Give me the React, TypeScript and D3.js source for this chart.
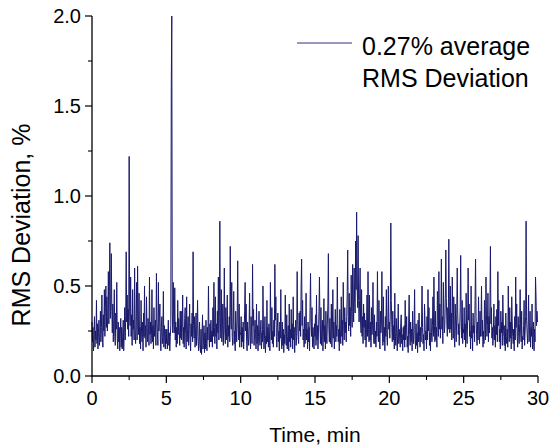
import React from "react";
import * as d3 from "d3";

// RMS deviation (%) sampled every 2 s (1/30 min), one row per minute
const rmsDeviation: number[] = [
  0.30,0.19,0.27,0.14,0.23,0.33,0.16,0.25,0.20,0.42,0.18,0.29,0.15,0.24,0.31,0.17,0.22,0.36,0.19,0.27,0.45,0.21,0.16,0.34,0.25,0.48,0.22,0.38,0.50,0.27,
  0.44,0.25,0.33,0.58,0.29,0.47,0.74,0.32,0.41,0.68,0.36,0.24,0.40,0.19,0.30,0.48,0.22,0.17,0.35,0.26,0.52,0.21,0.15,0.30,0.19,0.27,0.14,0.23,0.32,0.16,
  0.27,0.15,0.22,0.31,0.14,0.24,0.38,0.20,0.33,0.69,0.30,0.45,0.26,0.37,0.22,1.22,0.36,0.28,0.55,0.22,0.34,0.17,0.48,0.26,0.31,0.20,0.60,0.25,0.18,0.29,
  0.52,0.20,0.61,0.33,0.23,0.46,0.18,0.27,0.15,0.42,0.24,0.19,0.30,0.14,0.35,0.22,0.50,0.21,0.28,0.16,0.44,0.25,0.19,0.32,0.28,0.17,0.55,0.23,0.30,0.18,
  0.23,0.48,0.19,0.28,0.15,0.38,0.22,0.26,0.31,0.17,0.57,0.30,0.24,0.17,0.52,0.25,0.33,0.40,0.20,0.14,0.27,0.33,0.18,0.22,0.47,0.16,0.28,0.21,0.15,0.26,
  0.18,0.26,0.15,0.21,0.31,0.17,0.24,0.14,0.22,0.28,1.62,2.00,0.35,0.24,0.52,0.30,0.24,0.49,0.20,0.30,0.16,0.27,0.18,0.42,0.23,0.32,0.25,0.17,0.36,0.21,
  0.36,0.20,0.27,0.45,0.18,0.27,0.16,0.32,0.38,0.23,0.15,0.44,0.19,0.26,0.33,0.17,0.26,0.40,0.21,0.14,0.29,0.22,0.35,0.19,0.69,0.28,0.21,0.33,0.16,0.25,
  0.35,0.17,0.24,0.42,0.22,0.14,0.19,0.30,0.16,0.13,0.26,0.12,0.21,0.34,0.15,0.20,0.28,0.13,0.24,0.15,0.31,0.18,0.14,0.27,0.20,0.50,0.24,0.16,0.29,0.19,
  0.31,0.19,0.25,0.16,0.38,0.22,0.52,0.27,0.18,0.44,0.22,0.29,0.15,0.36,0.24,0.55,0.20,0.33,0.86,0.30,0.21,0.48,0.19,0.26,0.40,0.17,0.28,0.60,0.26,0.18,
  0.38,0.20,0.27,0.45,0.16,0.28,0.22,0.33,0.19,0.72,0.33,0.26,0.52,0.22,0.17,0.30,0.47,0.18,0.25,0.14,0.36,0.26,0.19,0.31,0.64,0.29,0.20,0.40,0.16,0.24,
  0.23,0.33,0.16,0.27,0.19,0.30,0.15,0.24,0.36,0.52,0.25,0.40,0.19,0.14,0.30,0.22,0.17,0.28,0.46,0.21,0.15,0.33,0.26,0.18,0.62,0.28,0.37,0.17,0.23,0.31,
  0.24,0.15,0.40,0.18,0.28,0.14,0.22,0.36,0.21,0.17,0.26,0.31,0.15,0.24,0.19,0.50,0.26,0.15,0.21,0.33,0.13,0.22,0.18,0.42,0.19,0.27,0.16,0.29,0.24,0.14,
  0.52,0.27,0.20,0.38,0.18,0.25,0.16,0.31,0.22,0.62,0.31,0.44,0.22,0.16,0.27,0.35,0.19,0.25,0.14,0.30,0.21,0.48,0.20,0.15,0.30,0.17,0.26,0.13,0.23,0.18,
  0.45,0.23,0.17,0.34,0.15,0.22,0.28,0.14,0.40,0.19,0.26,0.16,0.37,0.21,0.29,0.15,0.44,0.20,0.27,0.13,0.24,0.31,0.17,0.22,0.58,0.31,0.22,0.18,0.35,0.25,
  0.36,0.22,0.50,0.65,0.28,0.42,0.20,0.26,0.16,0.33,0.18,0.24,0.46,0.20,0.26,0.15,0.30,0.19,0.27,0.14,0.38,0.57,0.30,0.22,0.38,0.16,0.27,0.21,0.15,0.29,
  0.22,0.34,0.17,0.45,0.20,0.28,0.15,0.24,0.36,0.55,0.29,0.18,0.38,0.17,0.25,0.31,0.14,0.24,0.43,0.19,0.28,0.15,0.36,0.22,0.18,0.30,0.40,0.68,0.26,0.19,
  0.32,0.18,0.25,0.40,0.16,0.25,0.48,0.21,0.30,0.15,0.24,0.37,0.19,0.28,0.22,0.55,0.30,0.19,0.26,0.14,0.37,0.26,0.18,0.44,0.22,0.31,0.17,0.52,0.28,0.20,
  0.38,0.24,0.30,0.19,0.33,0.46,0.70,0.33,0.25,0.46,0.28,0.38,0.22,0.56,0.36,0.27,0.62,0.44,0.30,0.60,0.41,0.35,0.75,0.48,0.91,0.50,0.38,0.78,0.42,0.30,
  0.42,0.60,0.30,0.24,0.48,0.22,0.33,0.18,0.40,0.27,0.35,0.20,0.31,0.16,0.26,0.45,0.22,0.58,0.26,0.19,0.45,0.20,0.30,0.16,0.38,0.23,0.28,0.52,0.24,0.18,
  0.34,0.18,0.25,0.16,0.30,0.22,0.58,0.27,0.19,0.42,0.22,0.15,0.36,0.24,0.30,0.58,0.25,0.17,0.44,0.19,0.27,0.14,0.33,0.22,0.48,0.23,0.17,0.29,0.50,0.26,
  0.30,0.21,0.36,0.85,0.42,0.27,0.19,0.36,0.20,0.28,0.15,0.46,0.24,0.17,0.32,0.22,0.14,0.25,0.40,0.18,0.26,0.21,0.16,0.29,0.34,0.18,0.23,0.14,0.27,0.20,
  0.28,0.16,0.42,0.20,0.25,0.33,0.16,0.22,0.13,0.30,0.45,0.23,0.17,0.30,0.19,0.26,0.14,0.36,0.24,0.18,0.28,0.48,0.21,0.15,0.29,0.17,0.24,0.13,0.31,0.19,
  0.35,0.22,0.16,0.27,0.19,0.30,0.50,0.27,0.18,0.23,0.14,0.40,0.30,0.20,0.25,0.15,0.33,0.20,0.48,0.25,0.38,0.17,0.24,0.14,0.32,0.24,0.19,0.28,0.44,0.22,
  0.55,0.28,0.19,0.36,0.20,0.27,0.16,0.47,0.31,0.22,0.58,0.26,0.40,0.21,0.30,0.65,0.26,0.33,0.18,0.52,0.34,0.24,0.28,0.45,0.70,0.43,0.30,0.22,0.38,0.26,
  0.76,0.38,0.24,0.50,0.26,0.35,0.20,0.55,0.32,0.21,0.44,0.22,0.16,0.40,0.28,0.19,0.34,0.60,0.35,0.23,0.29,0.17,0.26,0.38,0.67,0.30,0.21,0.42,0.18,0.26,
  0.24,0.38,0.20,0.29,0.16,0.46,0.25,0.18,0.31,0.60,0.31,0.40,0.22,0.25,0.15,0.50,0.21,0.28,0.14,0.35,0.24,0.28,0.19,0.42,0.65,0.33,0.23,0.17,0.30,0.20,
  0.44,0.26,0.18,0.36,0.22,0.30,0.50,0.22,0.31,0.16,0.25,0.18,0.42,0.27,0.20,0.55,0.34,0.22,0.28,0.46,0.19,0.33,0.24,0.40,0.72,0.29,0.38,0.21,0.27,0.17,
  0.25,0.40,0.20,0.28,0.16,0.33,0.23,0.37,0.19,0.58,0.28,0.42,0.19,0.26,0.15,0.36,0.24,0.30,0.17,0.45,0.30,0.22,0.17,0.28,0.14,0.35,0.22,0.18,0.26,0.16,
  0.50,0.26,0.19,0.38,0.21,0.30,0.15,0.44,0.30,0.22,0.18,0.26,0.14,0.33,0.20,0.55,0.27,0.40,0.22,0.16,0.33,0.24,0.18,0.29,0.48,0.25,0.19,0.36,0.15,0.22,
  0.20,0.28,0.42,0.17,0.25,0.33,0.86,0.31,0.24,0.18,0.27,0.45,0.19,0.26,0.36,0.16,0.27,0.22,0.40,0.15,0.22,0.30,0.14,0.26,0.19,0.55,0.44,0.28,0.36,0.30,
];
const sampleStepMin = 1 / 30;

const xTicks = [0, 5, 10, 15, 20, 25, 30];
const xMinorTicks = [2.5, 7.5, 12.5, 17.5, 22.5, 27.5];
const yTicks = [0, 0.5, 1.0, 1.5, 2.0];
const yMinorTicks = [0.25, 0.75, 1.25, 1.75];
const xTitle = "Time, min";
const yTitle = "RMS Deviation, %";
const legendLines = ["0.27% average", "RMS Deviation"];

const FONT = "'Liberation Sans', Arial, Helvetica, sans-serif";
const LINE_COLOR = "#1a1a6c";

export default function App() {
  const W = 550, H = 447;
  const x = d3.scaleLinear().domain([0, 30]).range([92, 538]);
  const y = d3.scaleLinear().domain([0, 2]).range([376, 16]);
  const linePath = d3
    .line<number>()
    .x((_, i) => x(i * sampleStepMin))
    .y((d) => y(d))(rmsDeviation) as string;

  const x0 = x(0), y0 = y(0);

  return (
    <div style={{ position: "fixed", left: 0, top: 0 }}>
      <svg width={W} height={H} style={{ display: "block", background: "#fff" }}>
        <path d={linePath} fill="none" stroke={LINE_COLOR} strokeWidth={1} strokeLinejoin="miter" />
        {/* axes */}
        <line x1={x0} x2={x0} y1={y(2)} y2={y0 + 0.5} stroke="#000" strokeWidth={1.3} />
        <line x1={x0 - 0.5} x2={x(30)} y1={y0} y2={y0} stroke="#000" strokeWidth={1.3} />
        {yTicks.map((t) => (
          <g key={"yt" + t}>
            <line x1={x0 - 7} x2={x0} y1={y(t)} y2={y(t)} stroke="#000" strokeWidth={1.2} />
            <text x={x0 - 11} y={y(t)} dy="0.36em" textAnchor="end" fontFamily={FONT} fontSize={20} fill="#000">
              {d3.format(".1f")(t)}
            </text>
          </g>
        ))}
        {yMinorTicks.map((t) => (
          <line key={"ym" + t} x1={x0 - 4} x2={x0} y1={y(t)} y2={y(t)} stroke="#000" strokeWidth={1.1} />
        ))}
        {xTicks.map((t) => (
          <g key={"xt" + t}>
            <line x1={x(t)} x2={x(t)} y1={y0} y2={y0 + 7} stroke="#000" strokeWidth={1.2} />
            <text x={x(t)} y={405} textAnchor="middle" fontFamily={FONT} fontSize={20} fill="#000">
              {t}
            </text>
          </g>
        ))}
        {xMinorTicks.map((t) => (
          <line key={"xm" + t} x1={x(t)} x2={x(t)} y1={y0} y2={y0 + 4} stroke="#000" strokeWidth={1.1} />
        ))}
        <text x={(x(0) + x(30)) / 2} y={442} textAnchor="middle" fontFamily={FONT} fontSize={21} fill="#000">
          {xTitle}
        </text>
        <text
          transform={`translate(30, 225) rotate(-90)`}
          textAnchor="middle"
          fontFamily={FONT}
          fontSize={25}
          fill="#000"
        >
          {yTitle}
        </text>
        {/* legend */}
        <line x1={297} x2={352} y1={43} y2={43} stroke={LINE_COLOR} strokeWidth={0.9} />
        {legendLines.map((s, i) => (
          <text key={s} x={362} y={55 + i * 32} fontFamily={FONT} fontSize={25} fill="#000">
            {s}
          </text>
        ))}
      </svg>
    </div>
  );
}
